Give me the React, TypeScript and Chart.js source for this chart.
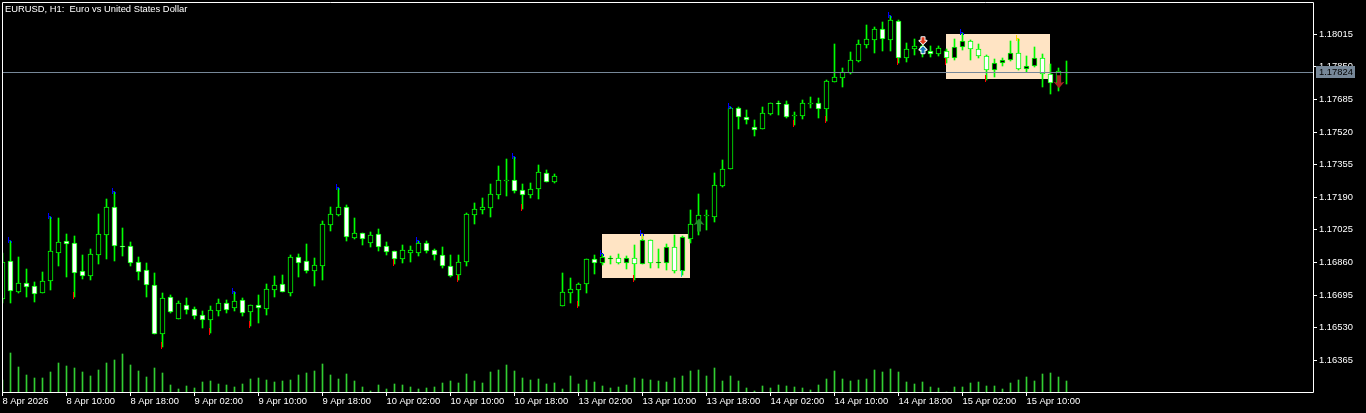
import React, { useEffect, useRef } from "react";
import { Chart, registerables } from "chart.js";

Chart.register(...registerables);

const opens = [1.16677,1.16866,1.16711,1.16755,1.16739,1.16707,1.16768,1.1691,1.16967,1.16957,1.16815,1.16793,1.169,1.17001,1.17139,1.16942,1.16942,1.16861,1.1682,1.16744,1.165,1.16684,1.16576,1.16643,1.16623,1.16593,1.16571,1.16616,1.16653,1.16631,1.16669,1.16611,1.16643,1.16626,1.16723,1.1675,1.16707,1.16886,1.16866,1.16819,1.16844,1.17052,1.171,1.17139,1.16986,1.17008,1.1696,1.17003,1.16942,1.16917,1.16879,1.1691,1.1691,1.16957,1.16922,1.16896,1.16841,1.16798,1.16864,1.17102,1.17127,1.17138,1.17203,1.17276,1.17276,1.17225,1.17203,1.17234,1.17311,1.17269,
1.16642,1.16707,1.16722,1.16753,1.16876,1.16859,1.16879,1.16881,1.16859,1.16881,1.16854,1.16972,1.16859,1.16859,1.16937,1.16819,1.16981,1.17053,1.17095,1.17092,1.17249,1.17335,1.1764,1.17598,1.17544,1.17537,1.17612,1.17666,1.1766,1.17603,1.17603,1.17666,
1.17667,1.17638,1.17775,1.17795,1.17819,1.17881,1.17962,1.17988,1.1804,1.17988,1.1808,1.17896,1.17939,1.17954,1.17929,1.17913,1.17929,1.17893,1.17949,1.17979,1.17939,1.17903,1.17832,1.17868,1.17883,1.17918,1.17837,1.17853,1.17893,1.17812,1.17767,1.17822];
const highs = [1.16906,1.16969,1.16888,1.16825,1.1676,1.16812,1.17089,1.17084,1.17004,1.16992,1.16896,1.16928,1.17105,1.1718,1.17217,1.17035,1.16964,1.16888,1.16856,1.16805,1.16704,1.16696,1.16663,1.1668,1.16633,1.16613,1.16638,1.16675,1.1667,1.16711,1.1668,1.16643,1.16696,1.16751,1.16792,1.16797,1.16896,1.16901,1.16954,1.16883,1.1707,1.17139,1.17235,1.17151,1.17085,1.17008,1.17013,1.1703,1.16964,1.16918,1.16949,1.16944,1.16969,1.16969,1.16928,1.16938,1.16896,1.16896,1.17111,1.17159,1.17186,1.17257,1.17348,1.17384,1.17394,1.17257,1.17262,1.17353,1.17328,1.17308,
1.16807,1.16782,1.16756,1.16876,1.16898,1.16903,1.16891,1.16903,1.16891,1.16949,1.17004,1.16972,1.16928,1.16954,1.16999,1.16994,1.17126,1.17207,1.17126,1.17313,1.17379,1.17649,1.17645,1.17632,1.17581,1.17647,1.17666,1.17677,1.17677,1.17622,1.17682,1.17698,
1.17692,1.17782,1.17966,1.17842,1.17925,1.17984,1.18062,1.1805,1.18075,1.18107,1.18085,1.17971,1.17991,1.17994,1.17954,1.17956,1.1794,1.17991,1.1802,1.17984,1.17966,1.1791,1.17888,1.17893,1.17981,1.17991,1.17905,1.1795,1.17913,1.17863,1.17842,1.1788];
const lows = [1.16653,1.16657,1.16707,1.16687,1.16662,1.16707,1.16723,1.16842,1.16787,1.16685,1.16777,1.16771,1.16852,1.16878,1.16868,1.16893,1.16842,1.16771,1.16685,1.165,1.16431,1.16604,1.16576,1.16599,1.16574,1.16529,1.16503,1.16589,1.16604,1.16615,1.16589,1.16539,1.16554,1.16594,1.16685,1.16711,1.1669,1.16787,1.16807,1.16741,1.16771,1.17019,1.17095,1.16969,1.16977,1.16949,1.16938,1.16918,1.16898,1.16852,1.16858,1.16863,1.16893,1.16908,1.16873,1.16832,1.16787,1.16771,1.16842,1.17055,1.17105,1.1709,1.17181,1.17197,1.17212,1.17131,1.17186,1.17181,1.17266,1.17262,
1.16642,1.16655,1.16642,1.16706,1.16802,1.16847,1.16852,1.16852,1.16827,1.16771,1.16854,1.16834,1.16832,1.16822,1.16807,1.16797,1.1696,1.16999,1.17024,1.17065,1.17242,1.17333,1.17536,1.17561,1.175,1.17536,1.17606,1.17606,1.17591,1.17556,1.17586,1.17642,
1.17591,1.17576,1.17772,1.17748,1.17814,1.17875,1.17945,1.1792,1.1793,1.1793,1.17869,1.17875,1.1791,1.179,1.179,1.17907,1.17868,1.17885,1.17935,1.17885,1.17893,1.17783,1.178,1.17854,1.1788,1.17832,1.17822,1.17848,1.17748,1.17713,1.17728,1.17763];
const closes = [1.16861,1.16717,1.16755,1.16738,1.16702,1.16765,1.16917,1.16962,1.16955,1.16809,1.16793,1.16901,1.17003,1.17139,1.16945,1.1694,1.16859,1.16814,1.16748,1.165,1.16679,1.16611,1.16653,1.16621,1.16591,1.16571,1.16618,1.16653,1.16621,1.16663,1.16606,1.16643,1.16631,1.16724,1.16744,1.16712,1.16886,1.16859,1.16819,1.16846,1.17053,1.17104,1.17139,1.16991,1.17008,1.16981,1.17001,1.1694,1.16915,1.16879,1.16922,1.16922,1.16957,1.1692,1.169,1.16844,1.16793,1.16861,1.17104,1.17129,1.17139,1.17205,1.17276,1.17277,1.17224,1.17203,1.1723,1.17316,1.17269,1.17296,
1.16709,1.16724,1.16749,1.16876,1.16859,1.16886,1.16883,1.16859,1.16881,1.16854,1.16972,1.16859,1.16861,1.16937,1.16819,1.16987,1.17053,1.17099,1.17099,1.17251,1.17331,1.1764,1.17598,1.17581,1.17532,1.17615,1.17666,1.17664,1.17598,1.17605,1.17666,1.17667,
1.17638,1.17777,1.17797,1.17822,1.17883,1.17964,1.17989,1.1804,1.17989,1.18085,1.17896,1.17939,1.17954,1.17927,1.17913,1.17944,1.17893,1.17949,1.17979,1.17939,1.17903,1.17832,1.17868,1.17883,1.17918,1.17837,1.17853,1.17893,1.17812,1.17767,1.17827,1.17824];
const volumes = [12,39,25,17,14,14,20,29,26,24,20,16,22,29,32,38,27,21,15,24,19,7,3,6,4,10,11,8,7,5,8,13,14,12,10,11,12,17,19,21,28,17,13,18,11,5,1,7,3,8,7,5,3,4,5,9,11,9,18,11,9,20,22,27,21,14,12,13,8,9,3,16,8,12,10,6,4,5,7,14,13,12,11,10,14,16,21,22,16,24,11,16,11,4,1,6,4,7,6,5,4,2,7,13,21,13,11,12,13,22,20,23,20,10,8,10,5,4,0,5,5,9,10,6,6,3,9,12,15,11,18,19,15,11];

const timeLabels = ["8 Apr 2026","8 Apr 10:00","8 Apr 18:00","9 Apr 02:00","9 Apr 10:00","9 Apr 18:00","10 Apr 02:00","10 Apr 10:00","10 Apr 18:00","13 Apr 02:00","13 Apr 10:00","13 Apr 18:00","14 Apr 02:00","14 Apr 10:00","14 Apr 18:00","15 Apr 02:00","15 Apr 10:00"];
const priceTicks = [1.18015,1.1785,1.17685,1.1752,1.17355,1.1719,1.17025,1.1686,1.16695,1.1653,1.16365];
const currentPrice = 1.17824;
const titleText = "EURUSD, H1:  Euro vs United States Dollar";

const bandBars = [[75, 86, 1.17004, 1.16782], [118, 131, 1.18015, 1.17789]];
const blueHighMarks = [1, 6, 14, 29, 42, 52, 64, 75, 80, 91, 111, 120];
const yellowHighMarks = [127];
const redLowMarks = [9, 20, 26, 31, 49, 57, 65, 72, 79, 99, 103, 112, 118, 123];
const tealLowMarks = [85];
const arrowMarks = [
  { bar: 87, price: 1.1705, up: true, color: "#1f8f28", outline: "" },
  { bar: 132, price: 1.17775, up: false, color: "#a52424", outline: "" },
  { bar: 115, price: 1.17983, up: false, color: "#e0381a", outline: "#ffffff" },
  { bar: 115, price: 1.17937, up: true, color: "#1279b8", outline: "#ffffff" },
];

const FONT = '9.4px "Liberation Sans"';
const GREEN = "#00ff00";

const overlayPlugin = {
  id: "overlay",
  afterDatasetsUpdate(chart: any) {
    chart.data.datasets.forEach((_: any, i: number) => {
      chart.getDatasetMeta(i).data.forEach((el: any) => {
        const y = Math.round(el.y);
        let base = Math.round(el.base);
        if (base === y) base = y + 1;
        el.y = y;
        el.base = base;
      });
    });
  },
  beforeDatasetsDraw(chart: any) {
    const { ctx, scales } = chart;
    ctx.save();
    ctx.fillStyle = "#ffe4c4";
    for (const [a, b, hi, lo] of bandBars) {
      const x0 = Math.floor(scales.x.getPixelForValue(a));
      const x1 = Math.floor(scales.x.getPixelForValue(b));
      const y0 = Math.round(scales.y.getPixelForValue(hi));
      const y1 = Math.round(scales.y.getPixelForValue(lo));
      ctx.fillRect(x0, y0, x1 - x0, y1 - y0);
    }
    ctx.restore();
  },
  afterDatasetsDraw(chart: any) {
    const { ctx, scales, chartArea } = chart;
    const sx = scales.x, sy = scales.y;
    ctx.save();
    const cx = (k: number) => Math.floor(sx.getPixelForValue(k));
    const py = (v: number) => Math.round(sy.getPixelForValue(v));

    // current price line
    const ly = py(currentPrice);
    ctx.fillStyle = "#778899";
    ctx.fillRect(chartArea.left, ly, chartArea.right - chartArea.left, 1);

    // high markers
    const drawH = (k: number, color: string) => {
      const x = cx(k) - 2, y = py(highs[k]) - 4;
      ctx.fillStyle = color;
      ctx.fillRect(x, y, 1, 6);
      ctx.fillRect(x + 1, y + 3, 2, 1);
      ctx.fillRect(x + 3, y + 4, 1, 2);
    };
    blueHighMarks.forEach((k) => drawH(k, "#0000ff"));
    yellowHighMarks.forEach((k) => drawH(k, "#ffd700"));
    ctx.fillStyle = "#ffd700";
    ctx.fillRect(cx(80), py(highs[80]), 1, 5);

    // low markers
    const drawL = (k: number, color: string) => {
      ctx.fillStyle = color;
      ctx.fillRect(cx(k) - 1, py(lows[k]) - 5, 1, 7);
    };
    redLowMarks.forEach((k) => drawL(k, "#ff0000"));
    tealLowMarks.forEach((k) => drawL(k, "#20d0c0"));

    // arrows
    for (const a of arrowMarks) {
      const x = sx.getPixelForValue(a.bar) + 0.5;
      const y = sy.getPixelForValue(a.price);
      const small = !!a.outline;
      const w = small ? 3.5 : 5.5, h = small ? 3.5 : 6.5, s = small ? 1.5 : 2, d = a.up ? 1 : -1;
      const notch = small ? 0 : d;
      ctx.beginPath();
      ctx.moveTo(x, y - d * h);
      ctx.lineTo(x + w, y);
      ctx.lineTo(x + s, y - notch);
      ctx.lineTo(x + s, y + d * h);
      ctx.lineTo(x - s, y + d * h);
      ctx.lineTo(x - s, y - notch);
      ctx.lineTo(x - w, y);
      ctx.closePath();
      if (a.outline) {
        ctx.strokeStyle = a.outline;
        ctx.lineWidth = 2;
        ctx.lineJoin = "round";
        ctx.stroke();
      }
      ctx.fillStyle = a.color;
      ctx.fill();
    }

    // border
    ctx.strokeStyle = "#ffffff";
    ctx.lineWidth = 1;
    ctx.strokeRect(chartArea.left + 0.5, chartArea.top + 0.5, chartArea.right - chartArea.left, chartArea.bottom - chartArea.top);

    // title
    ctx.font = FONT;
    ctx.textBaseline = "middle";
    ctx.textAlign = "left";
    ctx.fillStyle = "#ffffff";
    ctx.fillText(titleText, chartArea.left + 3, chartArea.top + 7);

    // current price tag
    ctx.fillStyle = "#778899";
    ctx.fillRect(chartArea.right + 3, ly - 6, 39, 12);
    ctx.fillStyle = "#000000";
    ctx.fillText(currentPrice.toFixed(5), chartArea.right + 6, ly + 0.5);
    ctx.restore();
  },
};

export default function App() {
  const ref = useRef<HTMLCanvasElement | null>(null);
  useEffect(() => {
    document.body.style.margin = "0";
    document.body.style.background = "#000";
    const barIdx = opens.map((_, i) => i);
    const chart = new Chart(ref.current as HTMLCanvasElement, {
      type: "bar",
      data: {
        datasets: [
          {
            label: "Body",
            order: 0,
            data: barIdx.map((i) => ({ x: i, y: [Math.min(opens[i], closes[i]), Math.max(opens[i], closes[i])] })),
            backgroundColor: barIdx.map((i) => (closes[i] >= opens[i] ? "#000000" : "#ffffff")),
            borderColor: GREEN,
            borderWidth: 1,
            borderSkipped: false,
            barThickness: 5,
            grouped: false,
            yAxisID: "y",
          },
          {
            label: "Wick",
            order: 1,
            data: barIdx.map((i) => ({ x: i, y: [lows[i], highs[i]] })),
            backgroundColor: GREEN,
            borderWidth: 0,
            barThickness: 1,
            grouped: false,
            yAxisID: "y",
          },
          {
            label: "Volume",
            order: 2,
            data: barIdx.map((i) => ({ x: i, y: volumes[i] })),
            backgroundColor: "#32cd32",
            borderWidth: 0,
            barThickness: 1,
            grouped: false,
            yAxisID: "vol",
          },
        ],
      } as any,
      options: {
        animation: false,
        responsive: false,
        devicePixelRatio: 1,
        layout: { padding: { left: 2, top: 2, right: 0, bottom: 0 } },
        plugins: { legend: { display: false }, tooltip: { enabled: false }, title: { display: false } },
        scales: {
          x: {
            type: "linear",
            offset: false,
            min: -0.0625,
            max: 163.8125,
            afterBuildTicks: (s: any) => {
              s.ticks = timeLabels.map((_, i) => ({ value: i * 8 }));
            },
            afterFit: (s: any) => {
              s.height = 21;
              s.paddingLeft = 0;
              s.paddingRight = 0;
            },
            grid: { display: true, offset: false, drawOnChartArea: false, drawTicks: true, tickLength: 4, color: "#ffffff", lineWidth: 1 },
            border: { display: false },
            ticks: {
              autoSkip: false,
              maxRotation: 0,
              minRotation: 0,
              align: "start",
              padding: 0,
              color: "#ffffff",
              font: { family: "Liberation Sans", size: 9.4 },
              callback: (v: any) => timeLabels[v / 8],
            },
          },
          y: {
            type: "linear",
            position: "right",
            min: 1.162046,
            max: 1.181785,
            afterBuildTicks: (s: any) => {
              s.ticks = priceTicks.map((value) => ({ value }));
            },
            afterFit: (s: any) => {
              s.width = 53;
              s.paddingTop = 0;
              s.paddingBottom = 0;
            },
            grid: { display: true, drawOnChartArea: false, drawTicks: true, tickLength: 4, color: "#ffffff", lineWidth: 1 },
            border: { display: false },
            ticks: {
              autoSkip: false,
              padding: 2,
              color: "#ffffff",
              font: { family: "Liberation Sans", size: 9.4 },
              callback: (v: any) => Number(v).toFixed(5),
            },
          },
          vol: { type: "linear", display: false, min: 0, max: 390 },
        },
      } as any,
      plugins: [overlayPlugin],
    });
    return () => chart.destroy();
  }, []);
  return <canvas ref={ref} width={1366} height={413} style={{ display: "block", background: "#000" }} />;
}
